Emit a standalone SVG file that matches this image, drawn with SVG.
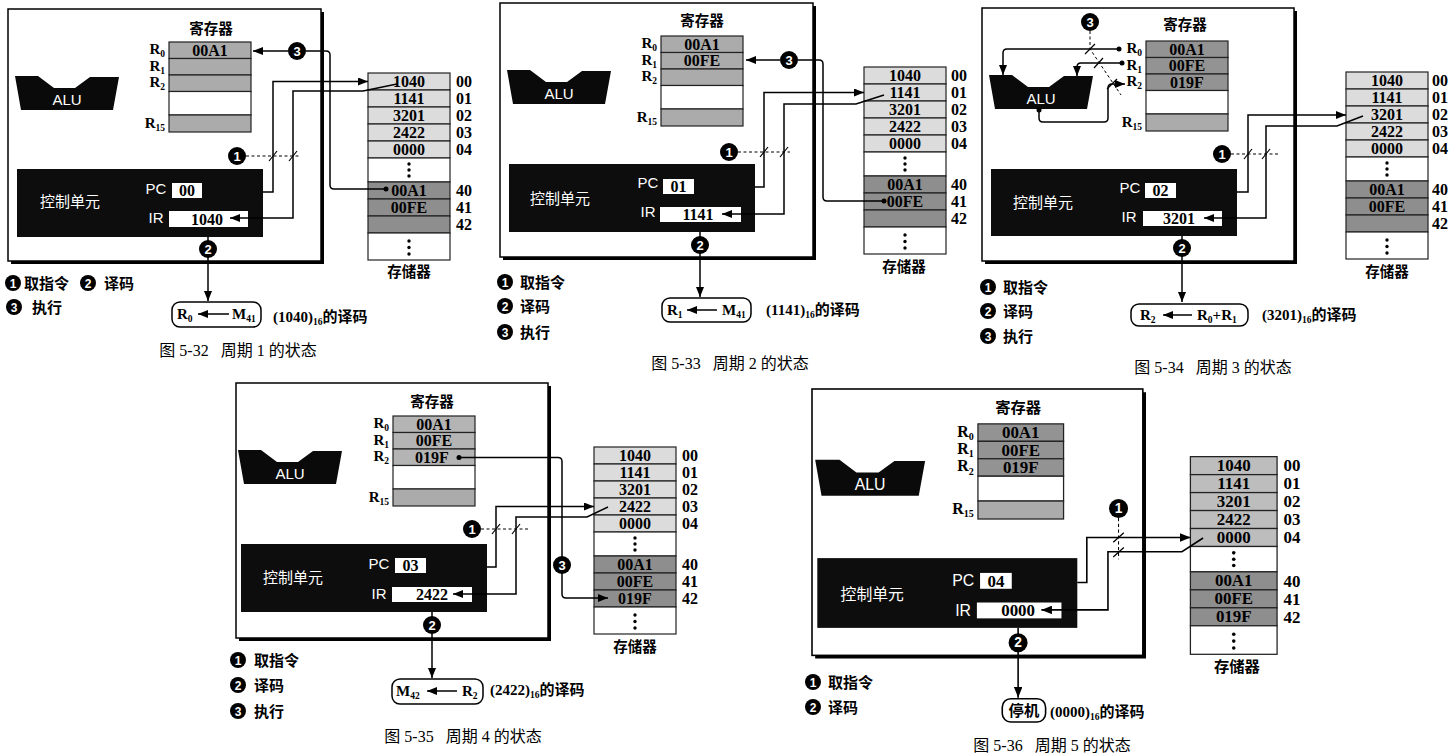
<svg xmlns="http://www.w3.org/2000/svg" width="1456" height="755" viewBox="0 0 1456 755">
<defs>
<marker id="ah" viewBox="0 0 10 8" refX="10" refY="4" markerWidth="10" markerHeight="8" markerUnits="userSpaceOnUse" orient="auto"><path d="M0,0 L10,4 L0,8 Z"/></marker>
<style>
.fr{fill:#fff;stroke:#000;stroke-width:1.5}
.sh{fill:none;stroke:#000;stroke-width:3}
.cell{stroke:#222;stroke-width:1.2}
.ga{fill:#ababab}
.gb{fill:#939393}
.gc{fill:#b4b4b4}
.gl{fill:#dcdcdc}
.gd{fill:#8e8e8e}
.gm{fill:#bdbdbd}
.w{fill:#fff}
.v{font:bold 16px "Liberation Serif",serif;text-anchor:middle;fill:#000}
.rl{font:bold 15px "Liberation Serif",serif;text-anchor:end}
.ad{font:bold 16px "Liberation Serif",serif}
.sub{font-size:9.5px}
.zh{font:bold 14.5px "Noto Sans CJK SC",sans-serif;text-anchor:middle}
.alu{fill:#0a0a0a}
.wt{fill:#fff;font:15px "Liberation Sans","Noto Sans CJK SC",sans-serif;text-anchor:middle}
.cu{fill:#0d0d0d}
.wb{fill:#fff}
.ln{fill:none;stroke:#000;stroke-width:1.5}
.ar{marker-end:url(#ah)}
.ds{fill:none;stroke:#000;stroke-width:1;stroke-dasharray:3 2.5}
.tk{fill:none;stroke:#000;stroke-width:1.2}
.nb circle{fill:#000}
.nb text{fill:#fff;font:bold 13px "Liberation Sans",sans-serif;text-anchor:middle}
.rb{fill:#fff;stroke:#000;stroke-width:1.5}
.lg{font:bold 15px "Noto Sans CJK SC",sans-serif}
.cap{font:16px "Liberation Serif","Noto Sans CJK SC",serif;text-anchor:middle}
.rt{font:bold 15px "Liberation Serif","Noto Sans CJK SC",serif}
.dot{fill:#000}
</style>
</defs>
<rect width="1456" height="755" fill="#fff"/>

<!-- ================= Figure 5-32 ================= -->
<g id="fig5-32">
<g transform="translate(8,9)">
<g id="p1-cpu"><rect class="fr" width="313" height="252"/><path class="sh" d="M314.5,3V253.5H3"/></g>
<g id="p1-registers">
<text class="zh" x="203" y="25">寄存器</text>
<rect class="cell ga" x="161" y="33" width="82" height="16.5"/>
<rect class="cell ga" x="161" y="49.5" width="82" height="16.5"/>
<rect class="cell ga" x="161" y="66" width="82" height="16.5"/>
<rect class="cell w" x="161" y="82.5" width="82" height="23.5"/>
<rect class="cell ga" x="161" y="106" width="82" height="17"/>
<text class="v" x="202" y="46.5">00A1</text>
<text class="rl" x="157" y="45">R<tspan class="sub" dy="3">0</tspan></text>
<text class="rl" x="157" y="61.5">R<tspan class="sub" dy="3">1</tspan></text>
<text class="rl" x="157" y="78">R<tspan class="sub" dy="3">2</tspan></text>
<text class="rl" x="157" y="118.5">R<tspan class="sub" dy="3">15</tspan></text>
</g>
<g id="p1-alu"><path class="alu" d="M7,67H30L46,79H67L82,68H111L105,101H13Z"/><text class="wt" x="59" y="96">ALU</text></g>
<g id="p1-control">
<rect class="cu" x="9" y="160" width="246" height="68"/>
<text class="wt" x="62" y="198">控制单元</text>
<text class="wt" x="148" y="185">PC</text>
<rect class="wb" x="164" y="174" width="30" height="15"/>
<text class="v" x="179" y="187">00</text>
<text class="wt" x="148" y="214">IR</text>
<rect class="wb" x="161" y="202" width="79" height="16"/>
<text class="v" x="199" y="215.5">1040</text>
</g>
<g id="p1-memory">
<rect class="cell gl" x="360" y="64" width="82" height="17"/>
<rect class="cell gl" x="360" y="81" width="82" height="17"/>
<rect class="cell gl" x="360" y="98" width="82" height="17"/>
<rect class="cell gl" x="360" y="115" width="82" height="17"/>
<rect class="cell gl" x="360" y="132" width="82" height="17"/>
<rect class="cell w" x="360" y="149" width="82" height="24"/>
<rect class="cell gd" x="360" y="173" width="82" height="17"/>
<rect class="cell gd" x="360" y="190" width="82" height="17"/>
<rect class="cell gd" x="360" y="207" width="82" height="17"/>
<rect class="cell w" x="360" y="224" width="82" height="27"/>
<text class="v" x="401" y="77.5">1040</text><text class="v" x="401" y="94.5">1141</text><text class="v" x="401" y="111.5">3201</text><text class="v" x="401" y="128.5">2422</text><text class="v" x="401" y="145.5">0000</text>
<text class="v" x="401" y="186.5">00A1</text><text class="v" x="401" y="203.5">00FE</text>
<circle class="dot" cx="401" cy="155" r="1.7"/><circle class="dot" cx="401" cy="161" r="1.7"/><circle class="dot" cx="401" cy="167" r="1.7"/>
<circle class="dot" cx="401" cy="232" r="1.7"/><circle class="dot" cx="401" cy="238.5" r="1.7"/><circle class="dot" cx="401" cy="245" r="1.7"/>
<text class="ad" x="448" y="78">00</text><text class="ad" x="448" y="95">01</text><text class="ad" x="448" y="112">02</text><text class="ad" x="448" y="129">03</text><text class="ad" x="448" y="146">04</text>
<text class="ad" x="448" y="187">40</text><text class="ad" x="448" y="204">41</text><text class="ad" x="448" y="221">42</text>
<text class="zh" x="401" y="268">存储器</text>
</g>
<g id="p1-result"><rect class="rb" x="164" y="293" width="89" height="25" rx="8"/><text class="rt" x="169" y="310">R<tspan class="sub" dy="3">0</tspan></text><text class="rt" x="224" y="310">M<tspan class="sub" dy="3">41</tspan></text></g>
<g id="p1-connectors">
<path class="ln ar" d="M255,183H265V72.5H360"/>
<path class="ln ar" d="M389,75L355,82H285V209H222"/>
<path class="ds" d="M238,147H293"/>
<path class="tk" d="M261,152L269,142M281,152L289,142"/>
<path class="ln ar" d="M280,42H245"/>
<path class="ln" d="M298,42H318Q322,42 322,46V176Q322,180 326,180H378"/>
<circle class="dot" cx="378" cy="180" r="2.5"/>
<path class="ln ar" d="M200,228V292"/>
<path class="ln ar" d="M221,305H190"/>
<g class="nb"><circle cx="229" cy="147" r="9"/><text x="229" y="151.5">1</text></g>
<g class="nb"><circle cx="200" cy="240" r="9"/><text x="200" y="244.5">2</text></g>
<g class="nb"><circle cx="289" cy="42" r="9"/><text x="289" y="46.5">3</text></g>
</g>
</g>
<g id="p1-legend">
<g class="nb"><circle cx="13" cy="283" r="8"/><text x="13" y="287.5" style="font-size:12px">1</text></g><text class="lg" x="24" y="289">取指令</text>
<g class="nb"><circle cx="88" cy="283" r="8"/><text x="88" y="287.5" style="font-size:12px">2</text></g><text class="lg" x="104" y="289">译码</text>
<g class="nb"><circle cx="14" cy="307" r="8"/><text x="14" y="311.5" style="font-size:12px">3</text></g><text class="lg" x="32" y="313">执行</text>
</g>
<text class="rt" x="273" y="322">(1040)<tspan class="sub" dy="3">16</tspan><tspan dy="-3" style="font-size:15px">的译码</tspan></text>
<text class="cap" x="238" y="356" xml:space="preserve">图 5-32   周期 1 的状态</text>
</g>

<!-- ================= Figure 5-33 ================= -->
<g id="fig5-33">
<g transform="translate(500,3)">
<g id="p2-cpu"><rect class="fr" width="313" height="254"/><path class="sh" d="M314.5,3V255.5H3"/></g>
<g id="p2-registers">
<text class="zh" x="202" y="23">寄存器</text>
<rect class="cell ga" x="161" y="33" width="82" height="16.5"/>
<rect class="cell ga" x="161" y="49.5" width="82" height="16.5"/>
<rect class="cell ga" x="161" y="66" width="82" height="16.5"/>
<rect class="cell w" x="161" y="82.5" width="82" height="23.5"/>
<rect class="cell ga" x="161" y="106" width="82" height="17"/>
<text class="v" x="202" y="46.5">00A1</text>
<text class="v" x="202" y="63">00FE</text>
<text class="rl" x="157" y="45">R<tspan class="sub" dy="3">0</tspan></text>
<text class="rl" x="157" y="61.5">R<tspan class="sub" dy="3">1</tspan></text>
<text class="rl" x="157" y="78">R<tspan class="sub" dy="3">2</tspan></text>
<text class="rl" x="157" y="118.5">R<tspan class="sub" dy="3">15</tspan></text>
</g>
<g id="p2-alu"><path class="alu" d="M7,67H30L46,79H67L82,68H111L105,101H13Z"/><text class="wt" x="59" y="96">ALU</text></g>
<g id="p2-control">
<rect class="cu" x="9" y="161" width="246" height="68"/>
<text class="wt" x="60" y="201">控制单元</text>
<text class="wt" x="148" y="185">PC</text>
<rect class="wb" x="163" y="176" width="31" height="15"/>
<text class="v" x="178.5" y="189">01</text>
<text class="wt" x="148" y="214">IR</text>
<rect class="wb" x="160" y="204" width="81" height="15"/>
<text class="v" x="198" y="217">1141</text>
</g>
<g id="p2-memory">
<rect class="cell gl" x="364" y="64" width="82" height="17"/>
<rect class="cell gl" x="364" y="81" width="82" height="17"/>
<rect class="cell gl" x="364" y="98" width="82" height="17"/>
<rect class="cell gl" x="364" y="115" width="82" height="17"/>
<rect class="cell gl" x="364" y="132" width="82" height="17"/>
<rect class="cell w" x="364" y="149" width="82" height="24"/>
<rect class="cell gd" x="364" y="173" width="82" height="17"/>
<rect class="cell gd" x="364" y="190" width="82" height="17"/>
<rect class="cell gd" x="364" y="207" width="82" height="17"/>
<rect class="cell w" x="364" y="224" width="82" height="27"/>
<text class="v" x="405" y="77.5">1040</text><text class="v" x="405" y="94.5">1141</text><text class="v" x="405" y="111.5">3201</text><text class="v" x="405" y="128.5">2422</text><text class="v" x="405" y="145.5">0000</text>
<text class="v" x="405" y="186.5">00A1</text><text class="v" x="405" y="203.5">00FE</text>
<circle class="dot" cx="405" cy="155" r="1.7"/><circle class="dot" cx="405" cy="161" r="1.7"/><circle class="dot" cx="405" cy="167" r="1.7"/>
<circle class="dot" cx="405" cy="232" r="1.7"/><circle class="dot" cx="405" cy="238.5" r="1.7"/><circle class="dot" cx="405" cy="245" r="1.7"/>
<text class="ad" x="451" y="78">00</text><text class="ad" x="451" y="95">01</text><text class="ad" x="451" y="112">02</text><text class="ad" x="451" y="129">03</text><text class="ad" x="451" y="146">04</text>
<text class="ad" x="451" y="187">40</text><text class="ad" x="451" y="204">41</text><text class="ad" x="451" y="221">42</text>
<text class="zh" x="404" y="269">存储器</text>
</g>
<g id="p2-result"><rect class="rb" x="162" y="295" width="89" height="24" rx="8"/><text class="rt" x="167" y="311.5">R<tspan class="sub" dy="3">1</tspan></text><text class="rt" x="222" y="311.5">M<tspan class="sub" dy="3">41</tspan></text></g>
<g id="p2-connectors">
<path class="ln ar" d="M255,184H264V89.5H364"/>
<path class="ln ar" d="M384,92L356,101H284V211H222"/>
<path class="ds" d="M238,149H290"/>
<path class="tk" d="M260,154L268,144M280,154L288,144"/>
<path class="ln ar" d="M280,57H246"/>
<path class="ln" d="M298,57H319Q323,57 323,61V194Q323,198 327,198H384"/>
<circle class="dot" cx="384" cy="198" r="2.5"/>
<path class="ln ar" d="M200,229V294"/>
<path class="ln ar" d="M217,307H187"/>
<g class="nb"><circle cx="229" cy="149" r="9"/><text x="229" y="153.5">1</text></g>
<g class="nb"><circle cx="200" cy="242" r="9"/><text x="200" y="246.5">2</text></g>
<g class="nb"><circle cx="289" cy="57" r="9"/><text x="289" y="61.5">3</text></g>
</g>
</g>
<g id="p2-legend">
<g class="nb"><circle cx="505" cy="282" r="8"/><text x="505" y="286.5" style="font-size:12px">1</text></g><text class="lg" x="520" y="288">取指令</text>
<g class="nb"><circle cx="505" cy="306" r="8"/><text x="505" y="310.5" style="font-size:12px">2</text></g><text class="lg" x="520" y="312">译码</text>
<g class="nb"><circle cx="505" cy="332" r="8"/><text x="505" y="336.5" style="font-size:12px">3</text></g><text class="lg" x="520" y="338">执行</text>
</g>
<text class="rt" x="766" y="315">(1141)<tspan class="sub" dy="3">16</tspan><tspan dy="-3" style="font-size:15px">的译码</tspan></text>
<text class="cap" x="730" y="369" xml:space="preserve">图 5-33   周期 2 的状态</text>
</g>

<!-- ================= Figure 5-34 ================= -->
<g id="fig5-34">
<g transform="translate(982,8)">
<g id="p3-cpu"><rect class="fr" width="312" height="253"/><path class="sh" d="M313.5,3V254.5H3"/></g>
<g id="p3-registers">
<text class="zh" x="203" y="22">寄存器</text>
<rect class="cell gb" x="164" y="33" width="82" height="16.5"/>
<rect class="cell gb" x="164" y="49.5" width="82" height="16.5"/>
<rect class="cell gb" x="164" y="66" width="82" height="16.5"/>
<rect class="cell w" x="164" y="82.5" width="82" height="23.5"/>
<rect class="cell ga" x="164" y="106" width="82" height="17"/>
<text class="v" x="205" y="46.5">00A1</text>
<text class="v" x="205" y="63">00FE</text>
<text class="v" x="205" y="79.5">019F</text>
<text class="rl" x="160" y="45">R<tspan class="sub" dy="3">0</tspan></text>
<text class="rl" x="160" y="61.5">R<tspan class="sub" dy="3">1</tspan></text>
<text class="rl" x="160" y="78">R<tspan class="sub" dy="3">2</tspan></text>
<text class="rl" x="160" y="118.5">R<tspan class="sub" dy="3">15</tspan></text>
</g>
<g id="p3-alu"><path class="alu" d="M7,67H30L46,79H67L82,68H111L105,101H13Z"/><text class="wt" x="59" y="96">ALU</text></g>
<g id="p3-control">
<rect class="cu" x="9" y="161" width="246" height="67"/>
<text class="wt" x="61" y="200">控制单元</text>
<text class="wt" x="148" y="185">PC</text>
<rect class="wb" x="163" y="175" width="31" height="15"/>
<text class="v" x="178.5" y="188">02</text>
<text class="wt" x="147" y="214">IR</text>
<rect class="wb" x="161" y="203" width="79" height="15"/>
<text class="v" x="197" y="216">3201</text>
</g>
<g id="p3-memory">
<rect class="cell gl" x="364" y="64" width="82" height="17"/>
<rect class="cell gl" x="364" y="81" width="82" height="17"/>
<rect class="cell gl" x="364" y="98" width="82" height="17"/>
<rect class="cell gl" x="364" y="115" width="82" height="17"/>
<rect class="cell gl" x="364" y="132" width="82" height="17"/>
<rect class="cell w" x="364" y="149" width="82" height="24"/>
<rect class="cell gd" x="364" y="173" width="82" height="17"/>
<rect class="cell gd" x="364" y="190" width="82" height="17"/>
<rect class="cell gd" x="364" y="207" width="82" height="17"/>
<rect class="cell w" x="364" y="224" width="82" height="27"/>
<text class="v" x="405" y="77.5">1040</text><text class="v" x="405" y="94.5">1141</text><text class="v" x="405" y="111.5">3201</text><text class="v" x="405" y="128.5">2422</text><text class="v" x="405" y="145.5">0000</text>
<text class="v" x="405" y="186.5">00A1</text><text class="v" x="405" y="203.5">00FE</text>
<circle class="dot" cx="405" cy="155" r="1.7"/><circle class="dot" cx="405" cy="161" r="1.7"/><circle class="dot" cx="405" cy="167" r="1.7"/>
<circle class="dot" cx="405" cy="232" r="1.7"/><circle class="dot" cx="405" cy="238.5" r="1.7"/><circle class="dot" cx="405" cy="245" r="1.7"/>
<text class="ad" x="450" y="78">00</text><text class="ad" x="450" y="95">01</text><text class="ad" x="450" y="112">02</text><text class="ad" x="450" y="129">03</text><text class="ad" x="450" y="146">04</text>
<text class="ad" x="450" y="187">40</text><text class="ad" x="450" y="204">41</text><text class="ad" x="450" y="221">42</text>
<text class="zh" x="405" y="269">存储器</text>
</g>
<g id="p3-result"><rect class="rb" x="149" y="296" width="117" height="22" rx="8"/><text class="rt" x="158" y="311.5">R<tspan class="sub" dy="3">2</tspan></text><text class="rt" x="215" y="311.5">R<tspan class="sub" dy="3">0</tspan><tspan dy="-3">+R</tspan><tspan class="sub" dy="3">1</tspan></text></g>
<g id="p3-connectors">
<path class="ln ar" d="M255,184H266V107H364"/>
<path class="ln ar" d="M381,108L355,118H284V210H222"/>
<path class="ds" d="M249,146H297"/>
<path class="tk" d="M262,151L270,141M280,151L288,141"/>
<path class="ln ar" d="M137,41H25Q21,41 21,45V67"/>
<circle class="dot" cx="137" cy="41" r="2.5"/>
<path class="ln ar" d="M140,55H99Q95,55 95,59V68"/>
<circle class="dot" cx="140" cy="55" r="2.5"/>
<path class="ln ar" d="M57,101V110Q57,114 61,114H122Q126,114 126,110V80Q126,76 130,76H143"/>
<circle class="dot" cx="57" cy="102" r="2.5"/>
<path class="ds" d="M108,23V41L139,87"/>
<path class="tk" d="M103,46L113,36M112,60L121,50M125,81L135,71"/>
<path class="ln ar" d="M200,228V294"/>
<path class="ln ar" d="M210,307H181"/>
<g class="nb"><circle cx="240" cy="146" r="9"/><text x="240" y="150.5">1</text></g>
<g class="nb"><circle cx="200" cy="240" r="9"/><text x="200" y="244.5">2</text></g>
<g class="nb"><circle cx="108" cy="14" r="9"/><text x="108" y="18.5">3</text></g>
</g>
</g>
<g id="p3-legend">
<g class="nb"><circle cx="988" cy="287" r="8"/><text x="988" y="291.5" style="font-size:12px">1</text></g><text class="lg" x="1003" y="293">取指令</text>
<g class="nb"><circle cx="988" cy="311" r="8"/><text x="988" y="315.5" style="font-size:12px">2</text></g><text class="lg" x="1003" y="317">译码</text>
<g class="nb"><circle cx="988" cy="336" r="8"/><text x="988" y="340.5" style="font-size:12px">3</text></g><text class="lg" x="1003" y="342">执行</text>
</g>
<text class="rt" x="1262" y="320">(3201)<tspan class="sub" dy="3">16</tspan><tspan dy="-3" style="font-size:15px">的译码</tspan></text>
<text class="cap" x="1213" y="373" xml:space="preserve">图 5-34   周期 3 的状态</text>
</g>

<!-- ================= Figure 5-35 ================= -->
<g id="fig5-35">
<g transform="translate(236,383)">
<g id="p4-cpu"><rect class="fr" width="312" height="255"/><path class="sh" d="M313.5,3V256.5H3"/></g>
<g id="p4-registers">
<text class="zh" x="196" y="24">寄存器</text>
<rect class="cell gc" x="157" y="33" width="82" height="16.5"/>
<rect class="cell gc" x="157" y="49.5" width="82" height="16.5"/>
<rect class="cell gc" x="157" y="66" width="82" height="16.5"/>
<rect class="cell w" x="157" y="82.5" width="82" height="23.5"/>
<rect class="cell ga" x="157" y="106" width="82" height="17"/>
<text class="v" x="198" y="46.5">00A1</text>
<text class="v" x="198" y="63">00FE</text>
<text class="v" x="196" y="79.5">019F</text>
<text class="rl" x="153" y="45">R<tspan class="sub" dy="3">0</tspan></text>
<text class="rl" x="153" y="61.5">R<tspan class="sub" dy="3">1</tspan></text>
<text class="rl" x="153" y="78">R<tspan class="sub" dy="3">2</tspan></text>
<text class="rl" x="153" y="118.5">R<tspan class="sub" dy="3">15</tspan></text>
</g>
<g id="p4-alu"><path class="alu" d="M2,67H25L41,79H62L77,68H106L100,101H8Z"/><text class="wt" x="54" y="96">ALU</text></g>
<g id="p4-control">
<rect class="cu" x="5" y="161" width="246" height="68"/>
<text class="wt" x="57" y="200">控制单元</text>
<text class="wt" x="143" y="186">PC</text>
<rect class="wb" x="159" y="175" width="31" height="15"/>
<text class="v" x="174.5" y="188">03</text>
<text class="wt" x="143" y="216">IR</text>
<rect class="wb" x="156" y="204" width="80" height="15"/>
<text class="v" x="196" y="217">2422</text>
</g>
<g id="p4-memory">
<rect class="cell gl" x="358" y="64" width="82" height="17"/>
<rect class="cell gl" x="358" y="81" width="82" height="17"/>
<rect class="cell gl" x="358" y="98" width="82" height="17"/>
<rect class="cell gl" x="358" y="115" width="82" height="17"/>
<rect class="cell gl" x="358" y="132" width="82" height="17"/>
<rect class="cell w" x="358" y="149" width="82" height="24"/>
<rect class="cell gd" x="358" y="173" width="82" height="17"/>
<rect class="cell gd" x="358" y="190" width="82" height="17"/>
<rect class="cell gd" x="358" y="207" width="82" height="17"/>
<rect class="cell w" x="358" y="224" width="82" height="27"/>
<text class="v" x="399" y="77.5">1040</text><text class="v" x="399" y="94.5">1141</text><text class="v" x="399" y="111.5">3201</text><text class="v" x="399" y="128.5">2422</text><text class="v" x="399" y="145.5">0000</text>
<text class="v" x="399" y="186.5">00A1</text><text class="v" x="399" y="203.5">00FE</text><text class="v" x="399" y="220.5">019F</text>
<circle class="dot" cx="399" cy="155" r="1.7"/><circle class="dot" cx="399" cy="161" r="1.7"/><circle class="dot" cx="399" cy="167" r="1.7"/>
<circle class="dot" cx="399" cy="232" r="1.7"/><circle class="dot" cx="399" cy="238.5" r="1.7"/><circle class="dot" cx="399" cy="245" r="1.7"/>
<text class="ad" x="446" y="78">00</text><text class="ad" x="446" y="95">01</text><text class="ad" x="446" y="112">02</text><text class="ad" x="446" y="129">03</text><text class="ad" x="446" y="146">04</text>
<text class="ad" x="446" y="187">40</text><text class="ad" x="446" y="204">41</text><text class="ad" x="446" y="221">42</text>
<text class="zh" x="399" y="269">存储器</text>
</g>
<g id="p4-result"><rect class="rb" x="156" y="296" width="91" height="25" rx="8"/><text class="rt" x="160" y="313">M<tspan class="sub" dy="3">42</tspan></text><text class="rt" x="226" y="313">R<tspan class="sub" dy="3">2</tspan></text></g>
<g id="p4-connectors">
<path class="ln ar" d="M251,184H260V123.5H358"/>
<path class="ln ar" d="M372,124L351,134H280V211H217"/>
<path class="ds" d="M245,146H292"/>
<path class="tk" d="M256,151L264,141M276,151L284,141"/>
<path class="ln ar" d="M223,74.5H322Q326,74.5 326,78.5V211Q326,215 330,215H372"/>
<circle class="dot" cx="223" cy="74.5" r="2.5"/>
<path class="ln ar" d="M196,229V295"/>
<path class="ln ar" d="M221,308H191"/>
<g class="nb"><circle cx="236" cy="146" r="9"/><text x="236" y="150.5">1</text></g>
<g class="nb"><circle cx="196" cy="242" r="9"/><text x="196" y="246.5">2</text></g>
<g class="nb"><circle cx="326" cy="182" r="9"/><text x="326" y="186.5">3</text></g>
</g>
</g>
<g id="p4-legend">
<g class="nb"><circle cx="238" cy="660" r="8"/><text x="238" y="664.5" style="font-size:12px">1</text></g><text class="lg" x="254" y="666">取指令</text>
<g class="nb"><circle cx="238" cy="685" r="8"/><text x="238" y="689.5" style="font-size:12px">2</text></g><text class="lg" x="254" y="691">译码</text>
<g class="nb"><circle cx="238" cy="711" r="8"/><text x="238" y="715.5" style="font-size:12px">3</text></g><text class="lg" x="254" y="717">执行</text>
</g>
<text class="rt" x="490" y="695">(2422)<tspan class="sub" dy="3">16</tspan><tspan dy="-3" style="font-size:15px">的译码</tspan></text>
<text class="cap" x="463" y="742" xml:space="preserve">图 5-35   周期 4 的状态</text>
</g>

<!-- ================= Figure 5-36 ================= -->
<g id="fig5-36">
<g transform="translate(812,389) scale(1.057)">
<g id="p5-cpu"><rect class="fr" width="313" height="252"/><path class="sh" d="M314.5,3V253.5H3"/></g>
<g id="p5-registers">
<text class="zh" x="195" y="23">寄存器</text>
<rect class="cell gb" x="157" y="33" width="81" height="16.5"/>
<rect class="cell gb" x="157" y="49.5" width="81" height="16.5"/>
<rect class="cell gb" x="157" y="66" width="81" height="16.5"/>
<rect class="cell w" x="157" y="82.5" width="81" height="23.5"/>
<rect class="cell ga" x="157" y="106" width="81" height="17"/>
<text class="v" x="197.5" y="46.5">00A1</text>
<text class="v" x="197.5" y="63">00FE</text>
<text class="v" x="197.5" y="79.5">019F</text>
<text class="rl" x="153" y="45">R<tspan class="sub" dy="3">0</tspan></text>
<text class="rl" x="153" y="61.5">R<tspan class="sub" dy="3">1</tspan></text>
<text class="rl" x="153" y="78">R<tspan class="sub" dy="3">2</tspan></text>
<text class="rl" x="153" y="118.5">R<tspan class="sub" dy="3">15</tspan></text>
</g>
<g id="p5-alu"><path class="alu" d="M3,67H26L42,79H63L78,68H107L101,101H9Z"/><text class="wt" x="55" y="96">ALU</text></g>
<g id="p5-control">
<rect class="cu" x="5" y="160" width="246" height="66"/>
<text class="wt" x="57" y="200">控制单元</text>
<text class="wt" x="143" y="186">PC</text>
<rect class="wb" x="159" y="174" width="30" height="15"/>
<text class="v" x="174" y="187">04</text>
<text class="wt" x="143" y="215">IR</text>
<rect class="wb" x="156" y="202" width="80" height="15"/>
<text class="v" x="195" y="215">0000</text>
</g>
<g id="p5-memory">
<rect class="cell gm" x="358" y="64" width="82" height="17"/>
<rect class="cell gm" x="358" y="81" width="82" height="17"/>
<rect class="cell gm" x="358" y="98" width="82" height="17"/>
<rect class="cell gm" x="358" y="115" width="82" height="17"/>
<rect class="cell gm" x="358" y="132" width="82" height="17"/>
<rect class="cell w" x="358" y="149" width="82" height="24"/>
<rect class="cell gd" x="358" y="173" width="82" height="17"/>
<rect class="cell gd" x="358" y="190" width="82" height="17"/>
<rect class="cell gd" x="358" y="207" width="82" height="17"/>
<rect class="cell w" x="358" y="224" width="82" height="27"/>
<text class="v" x="399" y="77.5">1040</text><text class="v" x="399" y="94.5">1141</text><text class="v" x="399" y="111.5">3201</text><text class="v" x="399" y="128.5">2422</text><text class="v" x="399" y="145.5">0000</text>
<text class="v" x="399" y="186.5">00A1</text><text class="v" x="399" y="203.5">00FE</text><text class="v" x="399" y="220.5">019F</text>
<circle class="dot" cx="399" cy="155" r="1.7"/><circle class="dot" cx="399" cy="161" r="1.7"/><circle class="dot" cx="399" cy="167" r="1.7"/>
<circle class="dot" cx="399" cy="232" r="1.7"/><circle class="dot" cx="399" cy="238.5" r="1.7"/><circle class="dot" cx="399" cy="245" r="1.7"/>
<text class="ad" x="446" y="78">00</text><text class="ad" x="446" y="95">01</text><text class="ad" x="446" y="112">02</text><text class="ad" x="446" y="129">03</text><text class="ad" x="446" y="146">04</text>
<text class="ad" x="446" y="187">40</text><text class="ad" x="446" y="204">41</text><text class="ad" x="446" y="221">42</text>
<text class="zh" x="402" y="268">存储器</text>
</g>
<g id="p5-result"><rect class="rb" x="180" y="293" width="41" height="22" rx="8"/><text class="zh" x="200.5" y="309">停机</text></g>
<g id="p5-connectors">
<path class="ln ar" d="M251,183H260V140.5H358"/>
<path class="ln ar" d="M370,141L350,154H280V209H217"/>
<path class="ds" d="M290,122V161"/>
<path class="tk" d="M285,145L295,136M285,159L295,150"/>
<path class="ln ar" d="M195,226V292"/>
<g class="nb"><circle cx="290" cy="113" r="9"/><text x="290" y="117.5">1</text></g>
<g class="nb"><circle cx="195" cy="240" r="9"/><text x="195" y="244.5">2</text></g>
</g>
</g>
<g id="p5-legend">
<g class="nb"><circle cx="813" cy="682" r="8"/><text x="813" y="686.5" style="font-size:12px">1</text></g><text class="lg" x="828" y="688">取指令</text>
<g class="nb"><circle cx="813" cy="707" r="8"/><text x="813" y="711.5" style="font-size:12px">2</text></g><text class="lg" x="828" y="713">译码</text>
</g>
<text class="rt" x="1050" y="717">(0000)<tspan class="sub" dy="3">16</tspan><tspan dy="-3" style="font-size:15px">的译码</tspan></text>
<text class="cap" x="1052" y="751" xml:space="preserve">图 5-36   周期 5 的状态</text>
</g>
</svg>
